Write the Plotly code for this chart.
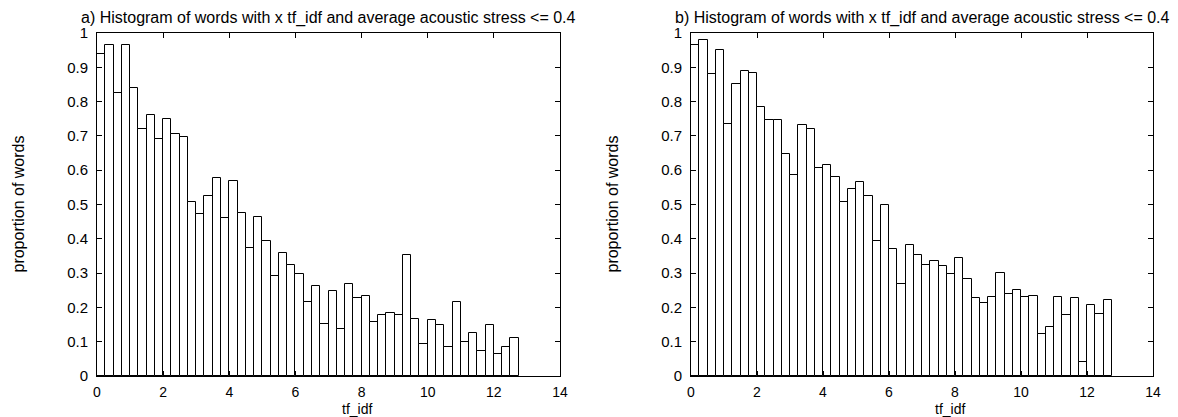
import numpy as np
import plotly.graph_objects as go

# Histogram bins: width 0.25 starting at tf_idf = 0
bin_width = 0.25
n_bins = 51
bin_centers = [bin_width * (i + 0.5) for i in range(n_bins)]

# a) proportion of words per bin
props_a = [0.940, 0.966, 0.826, 0.964, 0.840, 0.721, 0.762, 0.692, 0.750, 0.707,
           0.698, 0.506, 0.471, 0.524, 0.576, 0.462, 0.569, 0.476, 0.373, 0.464,
           0.393, 0.293, 0.360, 0.325, 0.296, 0.215, 0.262, 0.153, 0.249, 0.136,
           0.267, 0.226, 0.234, 0.158, 0.179, 0.185, 0.178, 0.353, 0.166, 0.093,
           0.164, 0.148, 0.086, 0.215, 0.098, 0.124, 0.074, 0.150, 0.063, 0.086,
           0.110]

# b) proportion of words per bin
props_b = [0.966, 0.981, 0.880, 0.950, 0.734, 0.852, 0.888, 0.884, 0.783, 0.747,
           0.747, 0.646, 0.587, 0.733, 0.719, 0.606, 0.614, 0.579, 0.507, 0.544,
           0.566, 0.524, 0.393, 0.500, 0.369, 0.267, 0.381, 0.354, 0.323, 0.334,
           0.321, 0.298, 0.344, 0.282, 0.226, 0.212, 0.229, 0.299, 0.238, 0.250,
           0.230, 0.233, 0.123, 0.142, 0.231, 0.179, 0.226, 0.040, 0.208, 0.182,
           0.221]

titles = ["a) Histogram of words with x tf_idf and average acoustic stress <= 0.4",
          "b) Histogram of words with x tf_idf and average acoustic stress <= 0.4"]
x_label = "tf_idf"
y_label = "proportion of words"
x_ticks = [0, 2, 4, 6, 8, 10, 12, 14]
y_ticks = [0, 0.1, 0.2, 0.3, 0.4, 0.5, 0.6, 0.7, 0.8, 0.9, 1]
y_tick_text = ["0", "0.1", "0.2", "0.3", "0.4", "0.5", "0.6", "0.7", "0.8", "0.9", "1"]

FONT = "Liberation Sans, Arial, Helvetica, sans-serif"
FS = 15
FS_X = 14
FS_TITLE = 16

W, H = 1178, 417
ML, MR, MT, MB = 97, 25, 33, 41
PW = W - ML - MR
PH = H - MT - MB

fig = go.Figure()
for k, vals in enumerate([props_a, props_b]):
    fig.add_trace(go.Bar(
        x=bin_centers, y=vals, width=bin_width,
        marker=dict(color="white", line=dict(color="black", width=1)),
        xaxis="x" if k == 0 else "x2", yaxis="y" if k == 0 else "y2",
        showlegend=False, hoverinfo="x+y",
    ))

left_dom = [0, (560 - ML) / PW]
right_dom = [(691 - ML) / PW, 1]

axis_common = dict(
    showgrid=False, zeroline=False, showline=True, linecolor="black", linewidth=1,
    mirror="allticks", ticks="inside", ticklen=5, tickcolor="black", tickwidth=1,
)
yfont = dict(family=FONT, size=FS, color="black")
xfont = dict(family=FONT, size=FS_X, color="black")

fig.update_layout(
    width=W, height=H,
    margin=dict(l=ML, r=MR, t=MT, b=MB, pad=0),
    paper_bgcolor="white", plot_bgcolor="white",
    bargap=0,
    xaxis=dict(domain=left_dom, range=[0, 14], tickvals=x_ticks, anchor="y",
               ticklabelstandoff=3, tickfont=xfont, **axis_common),
    yaxis=dict(domain=[0, 1], range=[0, 1], tickvals=y_ticks, ticktext=y_tick_text,
               anchor="x", ticklabelstandoff=5, tickfont=yfont, **axis_common),
    xaxis2=dict(domain=right_dom, range=[0, 14], tickvals=x_ticks, anchor="y2",
                ticklabelstandoff=3, tickfont=xfont, **axis_common),
    yaxis2=dict(domain=[0, 1], range=[0, 1], tickvals=y_ticks, ticktext=y_tick_text,
                anchor="x2", ticklabelstandoff=5, tickfont=yfont, **axis_common),
)

ann_font = dict(family=FONT, size=FS_X, color="black")
title_font = dict(family=FONT, size=FS_TITLE, color="black")
annotations = []
for k, (xd, xr) in enumerate([("x domain", "x"), ("x2 domain", "x2")]):
    annotations.append(dict(text=titles[k], xref=xd, x=0.5, yref="paper",
                            y=(MT + PH - 18) / PH, xanchor="center", yanchor="middle",
                            showarrow=False, font=title_font))
    annotations.append(dict(text=x_label, xref=xr, x=7.85, yref="paper",
                            y=(PH - (418 - MT)) / PH, xanchor="center", yanchor="bottom",
                            showarrow=False, font=ann_font, borderpad=0))
    y_lab_px = 18 if k == 0 else 612
    annotations.append(dict(text=y_label, xref="paper", x=(y_lab_px - ML) / PW,
                            yref="paper", y=0.5, xanchor="center", yanchor="middle",
                            textangle=-90, showarrow=False, font=title_font))
fig.update_layout(annotations=annotations)

fig.write_html("out.html")
